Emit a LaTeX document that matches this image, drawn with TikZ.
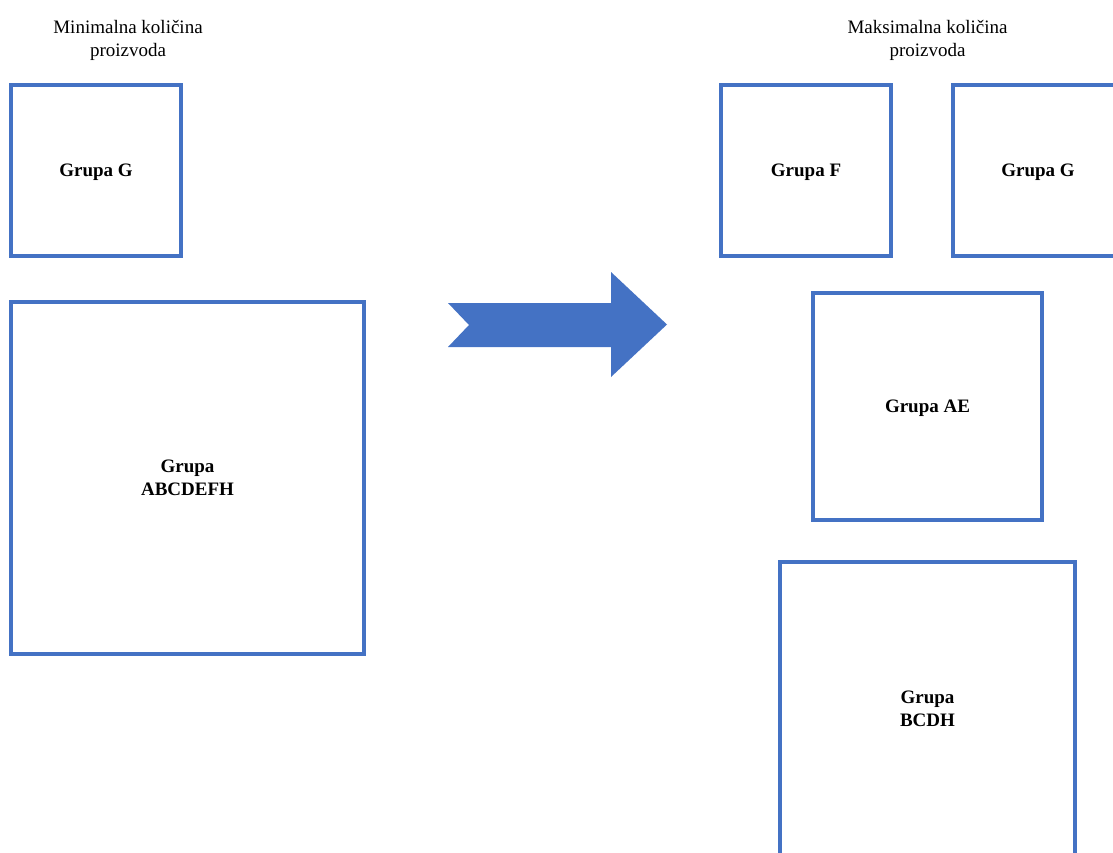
\documentclass[tikz,border=0pt]{standalone}
\usepackage{fontspec}
\setmainfont{Liberation Serif}
\definecolor{groupblue}{HTML}{4472C4}
\begin{document}
\begin{tikzpicture}[x=1pt,y=-1pt]
      % Define styles for nodes
      \tikzstyle{group} = [draw=groupblue, rectangle, line width=4pt,
      fill=white, align=center, inner sep=0pt, text depth=0pt,
      font=\fontsize{19}{23}\selectfont\bfseries]
      \tikzstyle{heading} = [align=center, text depth=0pt,
      font=\fontsize{19}{23}\selectfont]

      % Page size
      \useasboundingbox (0,0) rectangle (1113,853);
      \clip (0,0) rectangle (1113,853);

      % Headings at top
      \node[heading] (minHead) at (128,38) {Minimalna količina\\proizvoda};
      \node[heading] (maxHead) at (927.5,38) {Maksimalna količina\\proizvoda};

      % Groups for the minimal quantity
      \node[group, minimum width=170, minimum height=170] (minG) at (96,170.5) {Grupa G};
      \node[group, minimum width=353, minimum height=352] (minAll) at (187.5,478) {Grupa\\ABCDEFH};

      % Big arrow
      \fill[groupblue] (448,303) -- (611,303) -- (611,272) -- (667,324.5)
        -- (611,377) -- (611,347) -- (448,347) -- (469,325) -- cycle;

      % Groups for the maximal quantity
      \node[group, minimum width=170, minimum height=170] (maxF) at (806,170.5) {Grupa F};
      \node[group, minimum width=170, minimum height=170] (maxG) at (1038,170.5) {Grupa G};
      \node[group, minimum width=229, minimum height=227] (maxAE) at (927.5,406.5) {Grupa AE};
      \node[group, minimum width=295, minimum height=294] (maxBCDH) at (927.5,709) {Grupa\\BCDH};
    \end{tikzpicture}
\end{document}
